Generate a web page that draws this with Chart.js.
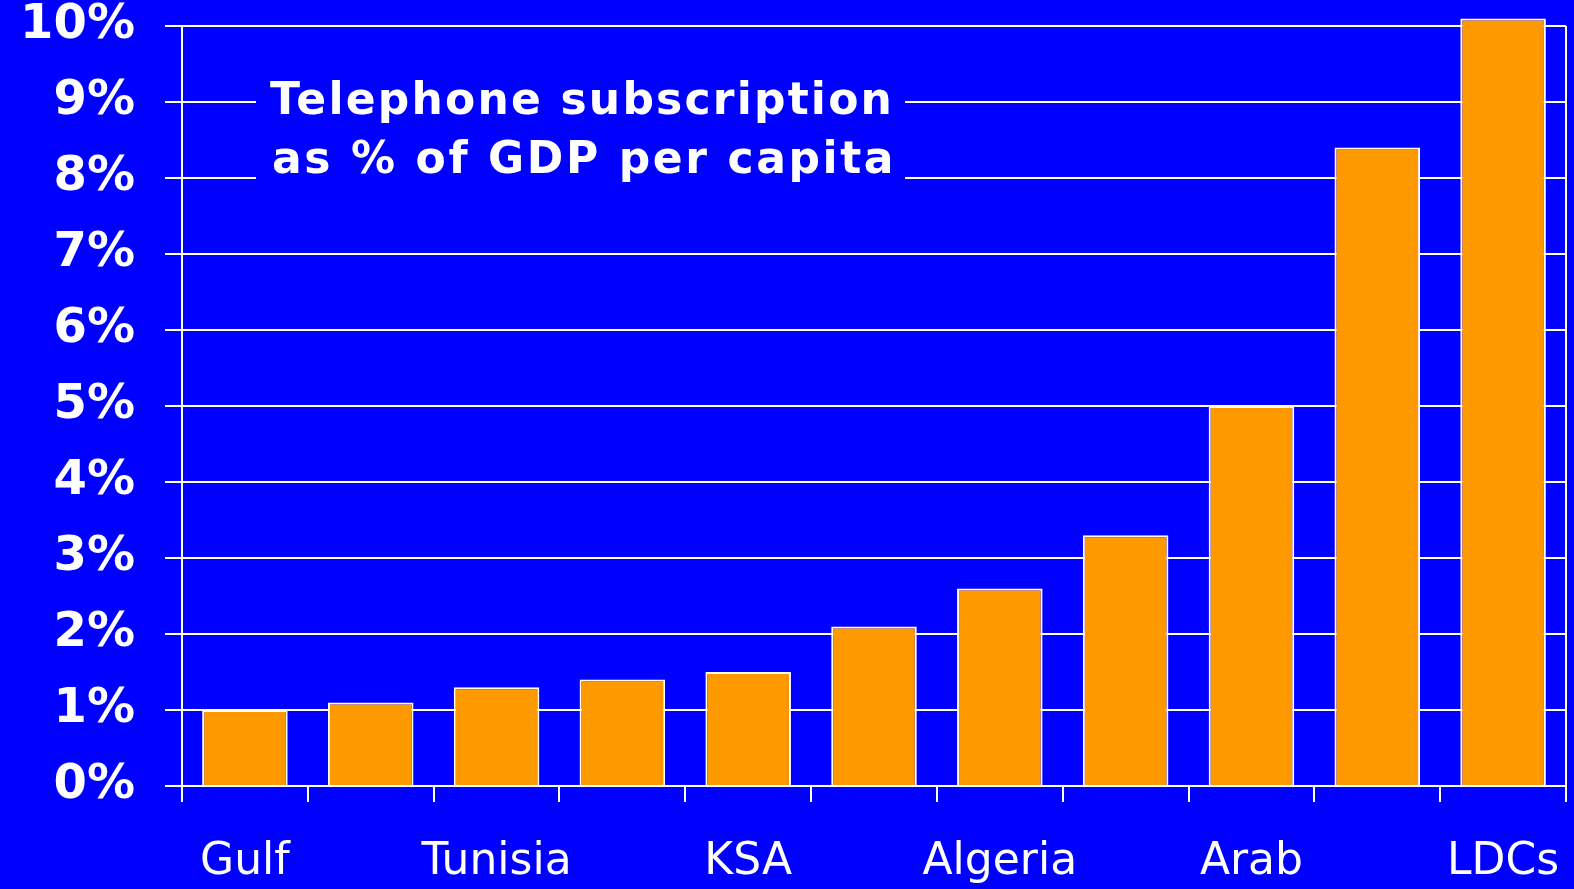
<!DOCTYPE html>
<html>
<head>
<meta charset="utf-8">
<script src="https://cdn.jsdelivr.net/npm/chart.js@4/dist/chart.umd.min.js"></script>
<style>
    html, body { margin: 0; padding: 0; background: #0000ff; }
    #wrap { width: 1574px; height: 889px; position: relative; }
</style>
</head>
<body>
<div id="wrap"><canvas id="suscripcionChart"></canvas></div>
<script>
// ========== DATOS ==========
const categorias = ['Gulf', '', 'Tunisia', '', 'KSA', '', 'Algeria', '', 'Arab', '', 'LDCs'];
const valores = [1.0, 1.1, 1.3, 1.4, 1.5, 2.1, 2.6, 3.3, 5.0, 8.4, 10.1];
const tituloLineas = ['Telephone subscription', 'as % of GDP per capita'];

const AZUL = '#0000ff';
const NARANJA = '#ff9900';
const BLANCO = '#ffffff';

// Caja del titulo dentro del grafico (tapa las lineas de la rejilla)
const tituloPlugin = {
    id: 'tituloPlugin',
    afterDraw(chart) {
        const ctx = chart.ctx;
        ctx.save();
        ctx.fillStyle = AZUL;
        ctx.fillRect(256, 60, 649, 140);
        ctx.fillStyle = BLANCO;
        ctx.font = 'bold 44px "DejaVu Sans"';
        ctx.textBaseline = 'alphabetic';
        ctx.textAlign = 'left';
        ctx.letterSpacing = '2.2px';
        ctx.fillText(tituloLineas[0], 270, 114);
        ctx.letterSpacing = '2.6px';
        ctx.fillText(tituloLineas[1], 272, 173);
        ctx.restore();
    }
};

const ctx = document.getElementById('suscripcionChart');

new Chart(ctx, {
    type: 'bar',
    data: {
        labels: categorias,
        datasets: [{
            data: valores,
            backgroundColor: NARANJA,
            borderColor: BLANCO,
            borderWidth: 2,
            barPercentage: 0.68,
            categoryPercentage: 1,
            clip: false
        }]
    },
    options: {
        responsive: true,
        maintainAspectRatio: false,
        animation: false,
        layout: { padding: { left: 0, top: 26, right: 8, bottom: 0 } },
        plugins: {
            legend: { display: false },
            tooltip: { enabled: false }
        },
        scales: {
            x: {
                grid: {
                    offset: true,
                    color: (c) => c.type === 'scale' ? BLANCO : 'rgba(0,0,0,0)',
                    lineWidth: 2,
                    tickColor: BLANCO,
                    tickWidth: 2,
                    tickLength: 16
                },
                border: { display: true, color: BLANCO, width: 2 },
                ticks: {
                    color: BLANCO,
                    autoSkip: false,
                    maxRotation: 0,
                    padding: 34,
                    font: { family: '"DejaVu Sans"', size: 44 }
                },
                afterFit: (scale) => {
                    scale.height = 103;
                    scale.paddingLeft = 0;
                    scale.paddingRight = 0;
                }
            },
            y: {
                min: 0,
                max: 10,
                grid: {
                    color: BLANCO,
                    lineWidth: 2,
                    tickColor: BLANCO,
                    tickLength: 17
                },
                border: { display: true, color: BLANCO, width: 2 },
                ticks: {
                    stepSize: 1,
                    color: BLANCO,
                    padding: 30,
                    font: { family: '"DejaVu Sans"', size: 48, weight: 'bold' },
                    callback: (v) => v + '%'
                },
                afterFit: (scale) => {
                    scale.width = 182;
                    scale.paddingTop = 0;
                    scale.paddingBottom = 0;
                }
            }
        }
    },
    plugins: [tituloPlugin]
});
</script>
</body>
</html>
